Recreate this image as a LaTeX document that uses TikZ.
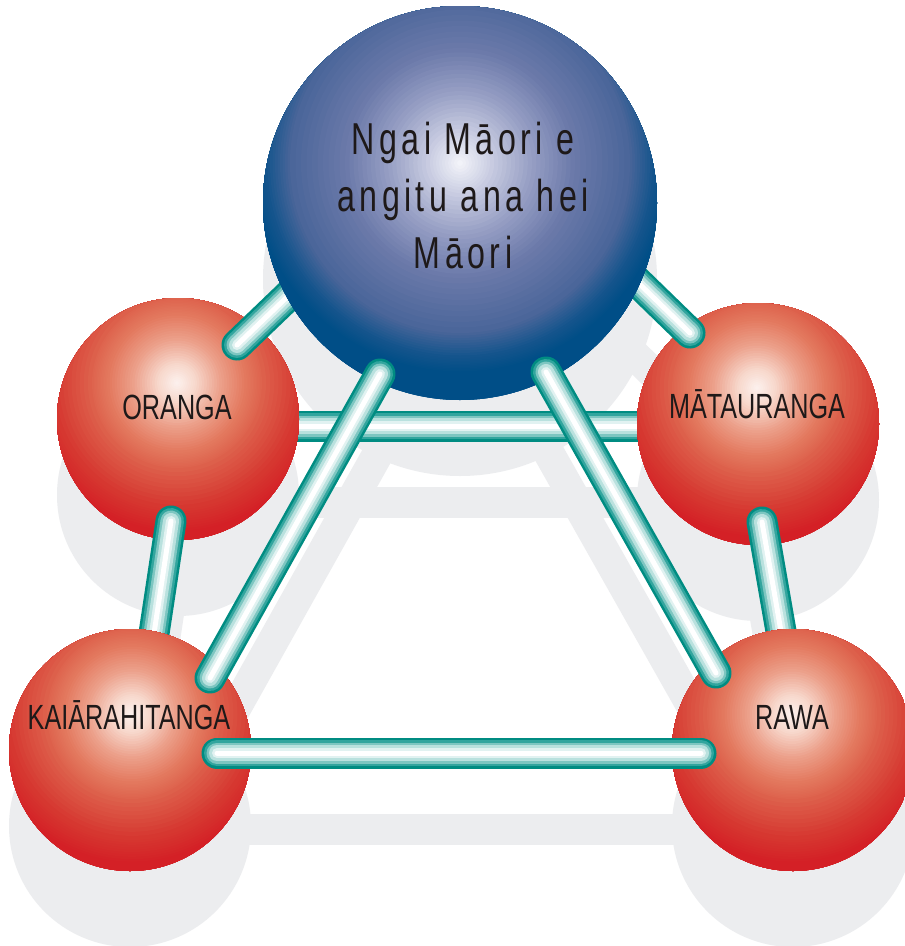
\documentclass[tikz,border=0pt]{standalone}
\usepackage{fontspec}
\newfontfamily\labfont[FakeStretch=0.72]{Liberation Sans}
\newfontfamily\bigfont[FakeStretch=0.72,LetterSpace=10]{Liberation Sans}
\definecolor{shadowgray}{RGB}{236,237,239}
\definecolor{txtcol}{RGB}{30,25,25}
% rod colours
\definecolor{rodA}{RGB}{0,140,130}
\definecolor{rodB}{RGB}{50,165,158}
\definecolor{rodC}{RGB}{125,198,193}
\definecolor{rodD}{RGB}{185,225,222}
\definecolor{rodE}{RGB}{225,242,241}
% red sphere colours
\definecolor{rA}{RGB}{212,32,38}
\definecolor{rB}{RGB}{214,55,48}
\definecolor{rC}{RGB}{222,100,78}
\definecolor{rD}{RGB}{227,120,94}
\definecolor{rE}{RGB}{236,160,138}
\definecolor{rF}{RGB}{247,215,203}
\definecolor{rG}{RGB}{253,243,240}
% blue sphere colours
\definecolor{bA}{RGB}{0,78,135}
\definecolor{bB}{RGB}{20,84,140}
\definecolor{bC}{RGB}{75,102,154}
\definecolor{bD}{RGB}{108,122,170}
\definecolor{bE}{RGB}{152,160,197}
\definecolor{bF}{RGB}{205,208,228}
\definecolor{bG}{RGB}{246,247,251}
\newcommand\rodline[2]{%
  \foreach \rw/\rc in {31/rodA,26/rodB,21/rodC,16/rodD,10/rodE,5/white}{%
    \draw[line width=\rw pt, color=\rc, line cap=round] (#1) -- (#2);}}
% concentric fills around a highlight point, outer segment first
\newcommand\ballfill[2]{%
  \foreach \ra/\rb/\ca/\cb in {#2}{%
    \foreach \k in {0,...,9}{%
      \pgfmathsetmacro\rr{\rb-(\rb-\ra)*\k/10}%
      \pgfmathsetmacro\pp{10*\k}%
      \fill[\ca!\pp!\cb] (#1) circle[radius=\rr pt];}}}
\newcommand\redsphere[3]{% centre, highlight, node name
  \begin{scope}
    \clip (#1) circle[radius=121pt];
    \fill[rA] (#1) circle[radius=121pt];
    \ballfill{#2}{150/170/rA/rA,126/150/rB/rA,85/126/rC/rB,70/85/rD/rC,45/70/rE/rD,20/45/rF/rE,0/20/rG/rF}
  \end{scope}
  \node[ball, minimum size=242pt] (#3) at (#1) {};}
\tikzset{
  ball/.style={circle, inner sep=0pt},
  lab/.style={inner sep=0pt, text=txtcol, font=\labfont\fontsize{35}{42}\selectfont},
  bigtxt/.style={inner sep=0pt, text=txtcol, align=center, font=\bigfont\fontsize{44.7}{57}\selectfont},
  shadowrod/.style={line width=31pt, color=shadowgray, line cap=round}
}
\begin{document}
\begin{tikzpicture}[x=1pt, y=-1pt]
\useasboundingbox (0,0) rectangle (905,946);
\fill[white] (0,0) rectangle (905,946);
% sphere centres and highlights
\coordinate (cB) at (460,203); \coordinate (hB) at (460,163);
\coordinate (cO) at (178,419); \coordinate (hO) at (177,383);
\coordinate (cM) at (758,424); \coordinate (hM) at (757,388);
\coordinate (cK) at (130,750); \coordinate (hK) at (132,714);
\coordinate (cR) at (793,750); \coordinate (hR) at (792,714);
% rod ends
\coordinate (a1) at (237,345); \coordinate (a2) at (310,275);
\coordinate (b1) at (690,333); \coordinate (b2) at (620,265);
\coordinate (c1) at (171,521); \coordinate (c2) at (150,660);
\coordinate (d1) at (762,522); \coordinate (d2) at (786,660);
\coordinate (e1) at (250,426); \coordinate (e2) at (690,426);
\coordinate (f1) at (380,374); \coordinate (f2) at (210,678);
\coordinate (g1) at (546,372); \coordinate (g2) at (716,673);
\coordinate (h1) at (217,753); \coordinate (h2) at (701,753);
% shadow
\begin{scope}[transform canvas={yshift=-76pt}]
  \fill[shadowgray] (cB) circle[radius=197pt];
  \foreach \c in {cO,cM,cK,cR} \fill[shadowgray] (\c) circle[radius=121pt];
  \foreach \p/\q in {a1/a2,b1/b2,c1/c2,d1/d2,e1/e2,f1/f2,g1/g2,h1/h2}
    \draw[shadowrod] (\p) -- (\q);
\end{scope}
% back rod
\rodline{e1}{e2}
% upper red spheres
\redsphere{cO}{hO}{oranga}
\redsphere{cM}{hM}{matauranga}
% rods behind blue / lower spheres
\rodline{a1}{a2}
\rodline{b1}{b2}
\rodline{c1}{c2}
\rodline{d1}{d2}
% blue sphere
\begin{scope}
  \clip (cB) circle[radius=197pt];
  \fill[bA] (cB) circle[radius=197pt];
  \ballfill{hB}{210/240/bA/bA,195/210/bB/bA,170/195/bC/bB,115/170/bD/bC,72/115/bE/bD,30/72/bF/bE,0/30/bG/bF}
\end{scope}
\node[ball, minimum size=394pt] (maori) at (cB) {};
% lower red spheres
\redsphere{cK}{hK}{kai}
\redsphere{cR}{hR}{rawa}
% front rods
\rodline{f1}{f2}
\rodline{g1}{g2}
\rodline{h1}{h2}
% texts
\node[bigtxt, anchor=north] (tmaori) at (463,122) {Ngai Māori e\\angitu ana hei\\Māori};
\node[lab, anchor=base] (toranga) at (177,419) {ORANGA};
\node[lab, anchor=base] (tmat) at (757,418) {MĀTAURANGA};
\node[lab, anchor=base] (tkai) at (129,729) {KAIĀRAHITANGA};
\node[lab, anchor=base] (trawa) at (792,729) {RAWA};
\end{tikzpicture}
\end{document}
